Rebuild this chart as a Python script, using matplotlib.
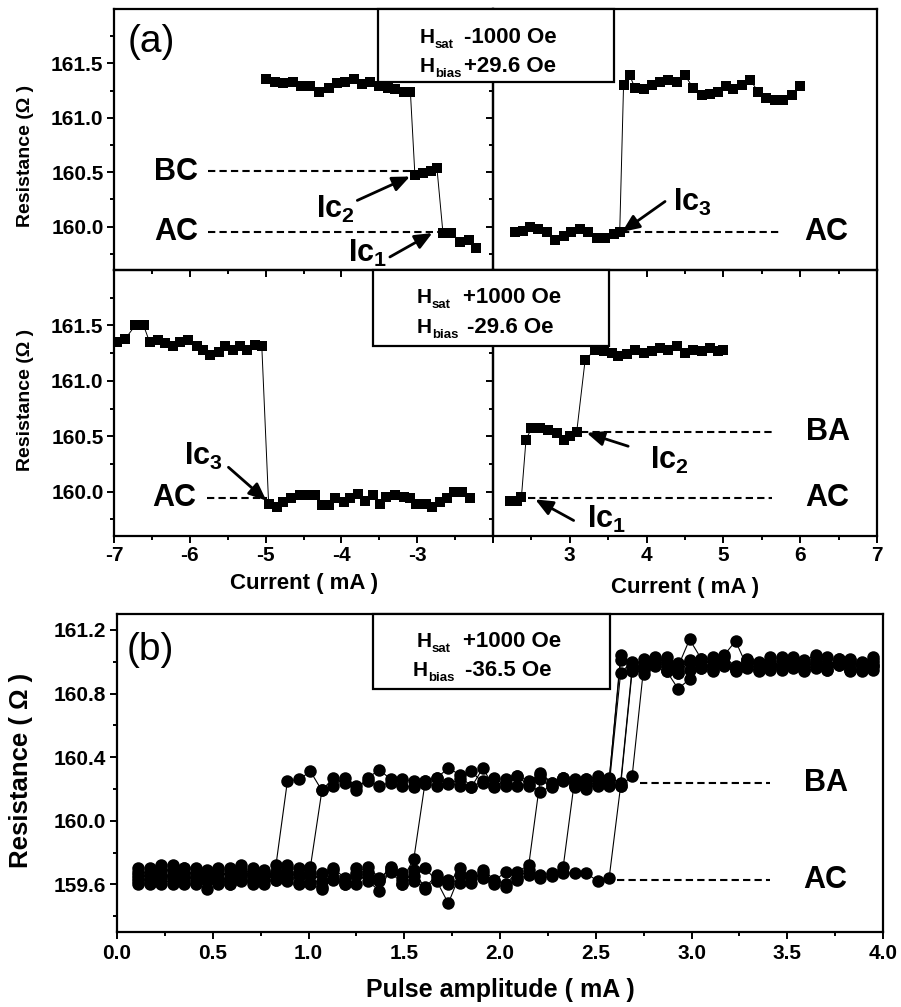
import matplotlib
matplotlib.use("Agg")
import matplotlib.pyplot as plt
from matplotlib.ticker import FixedLocator, FuncFormatter
from matplotlib.patches import Rectangle

# ---------------------------------------------------------------- data
# (a) upper row: Hsat -1000 Oe, Hbias +29.6 Oe
up_neg_I = [-4.99, -4.88, -4.77, -4.64, -4.53, -4.41, -4.30, -4.17, -4.06,
            -3.95, -3.84, -3.73, -3.62, -3.51, -3.39, -3.29, -3.18, -3.09,
            -3.03, -2.92, -2.82, -2.74,
            -2.66, -2.55, -2.43, -2.32, -2.22]
up_neg_R = [161.36, 161.33, 161.32, 161.33, 161.29, 161.29, 161.24, 161.27, 161.32,
            161.33, 161.36, 161.31, 161.33, 161.29, 161.27, 161.26, 161.24, 161.24,
            160.47, 160.49, 160.51, 160.54,
            159.94, 159.94, 159.86, 159.88, 159.80]
up_pos_I = [2.29, 2.39, 2.48, 2.59, 2.70, 2.81, 2.92, 3.02, 3.13, 3.24, 3.35, 3.46,
            3.57, 3.65,
            3.70, 3.78, 3.85, 3.96, 4.07, 4.17, 4.28, 4.39, 4.50, 4.61, 4.72, 4.83,
            4.93, 5.04, 5.13, 5.24, 5.35, 5.45, 5.56, 5.67, 5.78, 5.89, 6.00]
up_pos_R = [159.95, 159.96, 160.00, 159.98, 159.95, 159.88, 159.91, 159.95, 159.98,
            159.95, 159.89, 159.89, 159.93, 159.95,
            161.30, 161.39, 161.27, 161.26, 161.30, 161.33, 161.35, 161.33, 161.39,
            161.27, 161.21, 161.22, 161.24, 161.29, 161.26, 161.30, 161.35, 161.24,
            161.18, 161.16, 161.16, 161.21, 161.29]

# (a) lower row: Hsat +1000 Oe, Hbias -29.6 Oe
lo_neg_I = [-6.96, -6.85, -6.72, -6.61, -6.53, -6.42, -6.33, -6.22, -6.13, -6.02,
            -5.91, -5.82, -5.73, -5.62, -5.54, -5.43, -5.34, -5.25, -5.14, -5.05,
            -4.96, -4.85, -4.77, -4.66, -4.55, -4.46, -4.35, -4.26, -4.17, -4.08,
            -3.97, -3.89, -3.78, -3.69, -3.58, -3.49, -3.41, -3.29, -3.18, -3.09,
            -3.01, -2.89, -2.81, -2.70, -2.61, -2.52, -2.41, -2.30]
lo_neg_R = [161.35, 161.38, 161.50, 161.50, 161.35, 161.37, 161.34, 161.31, 161.35, 161.37,
            161.31, 161.28, 161.23, 161.26, 161.31, 161.28, 161.31, 161.28, 161.32, 161.31,
            159.89, 159.86, 159.91, 159.94, 159.97, 159.97, 159.97, 159.88, 159.88, 159.94,
            159.91, 159.94, 159.98, 159.92, 159.97, 159.89, 159.95, 159.97, 159.95, 159.94,
            159.89, 159.89, 159.86, 159.91, 159.94, 160.00, 160.00, 159.94]
lo_pos_I = [2.22, 2.31, 2.37,
            2.43, 2.50, 2.61, 2.72, 2.83, 2.92, 3.00, 3.09,
            3.20, 3.33, 3.44, 3.55, 3.63, 3.74, 3.85, 3.96, 4.07, 4.17, 4.28, 4.39,
            4.50, 4.61, 4.72, 4.83, 4.93, 5.00]
lo_pos_R = [159.92, 159.92, 159.95,
            160.47, 160.57, 160.57, 160.56, 160.53, 160.47, 160.50, 160.54,
            161.19, 161.28, 161.27, 161.25, 161.22, 161.24, 161.28, 161.25, 161.27,
            161.30, 161.28, 161.31, 161.25, 161.28, 161.27, 161.30, 161.27, 161.28]

# (b) pulse-amplitude sweeps: Hsat +1000 Oe, Hbias -36.5 Oe
pulse_mA = [0.11, 0.17, 0.23, 0.29, 0.35, 0.41, 0.47, 0.53, 0.59, 0.65,
            0.71, 0.77, 0.83, 0.89, 0.95, 1.01, 1.07, 1.13, 1.19, 1.25,
            1.31, 1.37, 1.43, 1.49, 1.55, 1.61, 1.67, 1.73, 1.79, 1.85,
            1.91, 1.97, 2.03, 2.09, 2.15, 2.21, 2.27, 2.33, 2.39, 2.45,
            2.51, 2.57, 2.63, 2.69, 2.75, 2.81, 2.87, 2.93, 2.99, 3.05,
            3.11, 3.17, 3.23, 3.29, 3.35, 3.41, 3.47, 3.53, 3.59, 3.65,
            3.71, 3.77, 3.83, 3.89, 3.95]
sweep1 = [159.60, 159.66, 159.70, 159.62, 159.68, 159.61, 159.57, 159.64, 159.69, 159.62,
          159.67, 159.60, 159.72, 160.25, 160.26, 160.31, 160.19, 160.27, 160.24, 160.19,
          160.27, 160.32, 160.26, 160.26, 160.25, 160.25, 160.27, 160.33, 160.29, 160.21,
          160.33, 160.21, 160.26, 160.28, 160.22, 160.30, 160.24, 160.27, 160.21, 160.26,
          160.28, 160.25, 161.04, 160.97, 161.02, 160.99, 161.03, 160.96, 161.00, 161.02,
          160.98, 161.03, 160.97, 161.01, 160.99, 161.03, 160.96, 161.02, 161.00, 160.97,
          161.03, 160.99, 161.02, 160.96, 161.01]
sweep2 = [159.64, 159.70, 159.60, 159.69, 159.63, 159.70, 159.62, 159.68, 159.60, 159.66,
          159.70, 159.63, 159.66, 159.64, 159.70, 159.71, 160.19, 160.22, 160.27, 160.22,
          160.25, 160.22, 160.24, 160.22, 160.21, 160.23, 160.22, 160.24, 160.22, 160.21,
          160.25, 160.22, 160.24, 160.22, 160.23, 160.18, 160.22, 160.25, 160.22, 160.20,
          160.23, 160.22, 160.93, 161.00, 160.95, 160.97, 160.94, 160.93, 160.95, 160.97,
          160.94, 160.98, 160.95, 160.96, 160.94, 160.98, 160.95, 160.97, 160.94, 160.96,
          160.95, 160.98, 160.94, 160.96, 160.95]
sweep3 = [159.68, 159.63, 159.72, 159.66, 159.60, 159.67, 159.64, 159.70, 159.63, 159.69,
          159.62, 159.68, 159.65, 159.72, 159.61, 159.66, 159.58, 159.69, 159.62, 159.67,
          159.71, 159.64, 159.69, 159.63, 159.76, 160.25, 160.27, 160.23, 160.26, 160.31,
          160.24, 160.27, 160.22, 160.28, 160.25, 160.29, 160.24, 160.27, 160.23, 160.26,
          160.24, 160.27, 160.24, 160.96, 160.92, 161.00, 160.94, 160.83, 160.89, 160.98,
          160.95, 160.99, 160.96, 161.00, 160.95, 160.98, 160.96, 161.00, 160.95, 160.98,
          160.97, 161.00, 160.95, 160.99, 160.97]
sweep4 = [159.70, 159.61, 159.65, 159.72, 159.66, 159.63, 159.68, 159.60, 159.66, 159.72,
          159.62, 159.69, 159.63, 159.67, 159.60, 159.68, 159.62, 159.70, 159.64, 159.60,
          159.68, 159.63, 159.71, 159.60, 159.65, 159.70, 159.62, 159.48, 159.66, 159.61,
          159.69, 159.63, 159.60, 159.68, 159.72, 160.26, 160.21, 160.27, 160.22, 160.25,
          160.22, 160.26, 161.01, 160.99, 160.96, 161.02, 161.00, 160.97, 161.14, 161.02,
          160.98, 161.04, 161.13, 160.97, 161.00, 160.97, 161.03, 160.98, 161.01, 161.04,
          160.97, 161.02, 161.00, 160.97, 161.03]
sweep5 = [159.62, 159.68, 159.64, 159.60, 159.70, 159.65, 159.69, 159.62, 159.70, 159.64,
          159.60, 159.66, 159.63, 159.70, 159.66, 159.61, 159.67, 159.63, 159.60, 159.70,
          159.66, 159.62, 159.68, 159.60, 159.69, 159.57, 159.64, 159.60, 159.70, 159.64,
          159.67, 159.62, 159.68, 159.64, 159.69, 159.66, 159.67, 159.71, 160.26, 160.22,
          160.27, 160.23, 160.22, 160.94, 160.99, 161.03, 160.97, 160.93, 161.00, 160.96,
          161.02, 160.97, 160.94, 161.01, 160.97, 160.95, 161.02, 160.96, 160.99, 161.03,
          160.95, 160.98, 161.01, 160.94, 160.99]
sweep6 = [159.66, 159.60, 159.68, 159.64, 159.70, 159.60, 159.66, 159.63, 159.60, 159.68,
          159.64, 159.66, 159.68, 159.62, 159.66, 159.60, 159.57, 159.64, 159.60, 159.66,
          159.62, 159.56, 159.70, 159.67, 159.62, 159.58, 159.66, 159.63, 159.61, 159.66,
          159.64, 159.60, 159.58, 159.63, 159.66, 159.64, 159.65, 159.67, 159.67, 159.67,
          159.62, 159.64, 160.22, 160.28, 160.96, 161.02, 160.95, 160.99, 161.01, 160.96,
          161.03, 160.98, 160.95, 161.02, 160.96, 161.00, 160.97, 161.03, 160.96, 161.00,
          160.98, 161.02, 160.95, 161.00, 160.97]
pulse_sweeps = [sweep1, sweep2, sweep3, sweep4, sweep5, sweep6]

# ---------------------------------------------------------------- style
plt.rcParams.update({
    "font.family": ["Liberation Sans", "DejaVu Sans"],
    "font.weight": "bold",
    "mathtext.fontset": "custom",
    "mathtext.rm": "Liberation Sans:bold",
    "mathtext.it": "Liberation Sans:bold",
    "mathtext.bf": "Liberation Sans:bold",
    "mathtext.sf": "Liberation Sans:bold",
    "axes.linewidth": 1.6,
})

W, H = 901, 1007
fig = plt.figure(figsize=(W / 100, H / 100), dpi=100)


def rect(x0, y0, x1, y1):
    return [x0 / W, 1 - y1 / H, (x1 - x0) / W, (y1 - y0) / H]


def fpos(x, y):
    return x / W, 1 - y / H


def current_fmt(v, _):
    return "" if abs(abs(v) - 2) < 1e-6 else f"{v:.0f}"


def one_dec(v, _):
    return f"{v:.1f}"


TICK_FS = 15


def style_a(ax, xlo, xhi, show_x, show_y):
    ax.set_facecolor("none")
    ax.set_xlim(xlo, xhi)
    ax.set_ylim(159.6, 162.0)
    ax.xaxis.set_major_locator(FixedLocator(list(range(int(xlo), int(xhi) + 1))))
    ax.xaxis.set_minor_locator(FixedLocator([v + 0.5 for v in range(int(xlo), int(xhi))]))
    ax.yaxis.set_major_locator(FixedLocator([160.0, 160.5, 161.0, 161.5]))
    ax.yaxis.set_minor_locator(FixedLocator([159.75, 160.25, 160.75, 161.25, 161.75]))
    ax.xaxis.set_major_formatter(FuncFormatter(current_fmt))
    ax.yaxis.set_major_formatter(FuncFormatter(one_dec))
    ax.tick_params(which="both", direction="out", top=False, right=False,
                   width=1.4, labelsize=TICK_FS, labelbottom=show_x, labelleft=show_y)
    ax.tick_params(which="major", length=5)
    ax.tick_params(which="minor", length=3.2)
    ax.tick_params(axis="x", pad=2)
    ax.tick_params(axis="y", pad=2.5)


sq = dict(color="k", marker="s", ms=7, mew=0, lw=0.7)
dash = dict(color="k", lw=1.5, ls=(0, (3.5, 2)))
arrow = dict(arrowstyle="-|>,head_length=0.7,head_width=0.3", lw=2.0, color="k",
             shrinkA=0, shrinkB=0, mutation_scale=15)
lbl = dict(fontsize=22, fontweight="bold", ha="center", va="center")
ic = dict(fontsize=22, ha="left", va="center")

# ---------------- (a) upper left
ax = fig.add_axes(rect(114, 9, 493, 270))
style_a(ax, -7, -2, False, True)
ax.plot(up_neg_I, up_neg_R, **sq)
ax.plot([-5.76, -3.08], [160.51, 160.51], **dash)
ax.plot([-5.76, -2.70], [159.95, 159.95], **dash)
ax.text(-6.18, 160.50, "BC", **lbl)
ax.text(-6.18, 159.95, "AC", **lbl)
ax.text(-4.34, 160.16, r"$\mathrm{Ic_2}$", **ic)
ax.annotate("", xy=(-3.095, 160.46), xytext=(-3.79, 160.24), arrowprops=arrow)
ax.text(-3.91, 159.75, r"$\mathrm{Ic_1}$", **ic)
ax.annotate("", xy=(-2.80, 159.94), xytext=(-3.36, 159.72), arrowprops=arrow)

# ---------------- (a) upper right
ax = fig.add_axes(rect(493, 9, 877, 270))
style_a(ax, 2, 7, False, False)
ax.plot(up_pos_I, up_pos_R, **sq)
ax.plot([3.68, 5.76], [159.95, 159.95], **dash)
ax.text(6.34, 159.95, "AC", **lbl)
ax.text(4.35, 160.22, r"$\mathrm{Ic_3}$", **ic)
ax.annotate("", xy=(3.68, 159.95), xytext=(4.24, 160.23), arrowprops=arrow)

# ---------------- (a) lower left
ax = fig.add_axes(rect(114, 270, 493, 536))
style_a(ax, -7, -2, True, True)
ax.plot(lo_neg_I, lo_neg_R, **sq)
ax.plot([-5.77, -4.98], [159.94, 159.94], **dash)
ax.text(-6.20, 159.94, "AC", **lbl)
ax.text(-6.08, 160.32, r"$\mathrm{Ic_3}$", **ic)
ax.annotate("", xy=(-4.99, 159.92), xytext=(-5.49, 160.22), arrowprops=arrow)

# ---------------- (a) lower right
ax = fig.add_axes(rect(493, 270, 877, 536))
style_a(ax, 2, 7, True, False)
ax.plot(lo_pos_I, lo_pos_R, **sq)
ax.plot([3.15, 5.63], [160.54, 160.54], **dash)
ax.plot([2.46, 5.63], [159.94, 159.94], **dash)
ax.text(6.36, 160.54, "BA", **lbl)
ax.text(6.35, 159.94, "AC", **lbl)
ax.text(4.05, 160.28, r"$\mathrm{Ic_2}$", **ic)
ax.annotate("", xy=(3.22, 160.53), xytext=(3.76, 160.41), arrowprops=arrow)
ax.text(3.22, 159.75, r"$\mathrm{Ic_1}$", **ic)
ax.annotate("", xy=(2.55, 159.93), xytext=(3.05, 159.74), arrowprops=arrow)

# ---------------- (b)
ax = fig.add_axes(rect(117, 614, 883, 932))
ax.set_facecolor("none")
ax.set_xlim(0, 4)
ax.set_ylim(159.3, 161.3)
ax.xaxis.set_major_locator(FixedLocator([0, 0.5, 1, 1.5, 2, 2.5, 3, 3.5, 4]))
ax.xaxis.set_minor_locator(FixedLocator([0.25, 0.75, 1.25, 1.75, 2.25, 2.75, 3.25, 3.75]))
ax.yaxis.set_major_locator(FixedLocator([159.6, 160.0, 160.4, 160.8, 161.2]))
ax.yaxis.set_minor_locator(FixedLocator([159.4, 159.8, 160.2, 160.6, 161.0]))
ax.xaxis.set_major_formatter(FuncFormatter(one_dec))
ax.yaxis.set_major_formatter(FuncFormatter(one_dec))
ax.tick_params(which="both", direction="out", top=False, right=False, width=1.4,
               labelsize=TICK_FS)
ax.tick_params(which="major", length=5)
ax.tick_params(which="minor", length=3.2)
ax.tick_params(axis="x", pad=3.5)
ax.tick_params(axis="y", pad=3)
for sweep in pulse_sweeps:
    ax.plot(pulse_mA, sweep, color="k", marker="o", ms=9, mew=0, lw=0.8)
ax.plot([2.73, 3.41], [160.24, 160.24], **dash)
ax.plot([2.61, 3.41], [159.63, 159.63], **dash)
ax.text(3.70, 160.24, "BA", **lbl)
ax.text(3.70, 159.63, "AC", **lbl)


# ---------------- field boxes
def field_box(x0, y0, x1, y1, lines):
    fig.add_artist(Rectangle(fpos(x0, y1), (x1 - x0) / W, (y1 - y0) / H,
                             transform=fig.transFigure, facecolor="white",
                             edgecolor="black", lw=1.6, zorder=10))
    for hx, vx, base, sub, val in lines:
        fig.text(*fpos(hx, base), "H", fontsize=15, ha="left", va="baseline", zorder=11)
        fig.text(*fpos(hx + 15, base + 5), sub, fontsize=9.5, ha="left",
                 va="baseline", zorder=11)
        fig.text(*fpos(vx, base), val, fontsize=16, ha="left", va="baseline", zorder=11)


field_box(378, 9, 614, 82, [(420, 464, 43, "sat", "-1000 Oe"),
                            (420, 464, 72, "bias", "+29.6 Oe")])
field_box(373, 270, 609, 346, [(417, 463, 303, "sat", "+1000 Oe"),
                               (417, 467, 333, "bias", "-29.6 Oe")])
field_box(373, 614, 610, 689, [(417, 463, 647, "sat", "+1000 Oe"),
                               (413, 465, 676, "bias", "-36.5 Oe")])

# ---------------- panel letters and axis titles
fig.text(*fpos(151, 42), "(a)", fontsize=28, fontweight="normal", ha="center", va="center")
fig.text(*fpos(150, 650), "(b)", fontsize=28, fontweight="normal", ha="center", va="center")
fig.text(*fpos(26, 156), "Resistance (\u03a9 )", fontsize=14, rotation=90, ha="center", va="center")
fig.text(*fpos(26, 400), "Resistance (\u03a9 )", fontsize=14, rotation=90, ha="center", va="center")
fig.text(*fpos(21, 770), "Resistance ( \u03a9 )", fontsize=18.5, rotation=90, ha="center", va="center")
fig.text(*fpos(304, 584), "Current ( mA )", fontsize=16, ha="center", va="center")
fig.text(*fpos(685, 587), "Current ( mA )", fontsize=16, ha="center", va="center")
fig.text(*fpos(500, 990), "Pulse amplitude ( mA )", fontsize=18, ha="center", va="center")

fig.savefig("out.png", dpi=100)
